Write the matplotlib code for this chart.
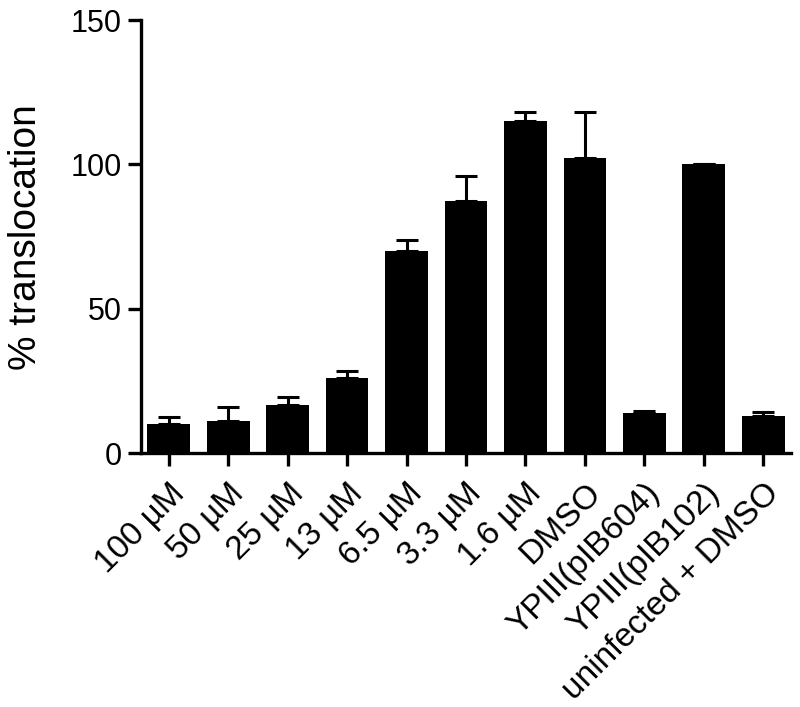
import matplotlib
matplotlib.use('Agg')
import matplotlib.pyplot as plt
import numpy as np

# data
categories = ['100 µM', '50 µM', '25 µM', '13 µM', '6.5 µM', '3.3 µM', '1.6 µM',
              'DMSO', 'YPIII(pIB604)', 'YPIII(pIB102)', 'uninfected + DMSO']
means = [10.1, 11.3, 16.7, 26.2, 70.1, 87.2, 115.1, 102.4, 13.9, 100.0, 12.9]
errors = [2.6, 4.8, 2.9, 2.3, 3.6, 8.9, 3.0, 15.7, 0.8, 0.0, 1.5]
yticks = [0, 50, 100, 150]

plt.rcParams['font.family'] = ['Liberation Sans', 'DejaVu Sans']

fig = plt.figure(figsize=(8, 7.07), dpi=100)
ax = fig.add_axes([0.176, 0.3588, 0.813, 0.6129])

x = np.arange(len(categories))
lower = np.zeros(len(errors))
ax.bar(x, means, width=0.72, color='black', zorder=2,
       yerr=[lower, errors],
       error_kw=dict(ecolor='black', elinewidth=2.2, capsize=8, capthick=2.2, zorder=1))

ax.set_xlim(-0.47, len(categories) - 0.53)
ax.set_ylim(0, 150)
ax.set_yticks(yticks)
ax.set_xticks(x)
ax.set_xticklabels(categories, rotation=45, ha='right', rotation_mode='anchor', fontsize=24)
ax.tick_params(axis='both', width=2.4, length=9.5, labelsize=22, pad=4)
ax.tick_params(axis='x', labelsize=24, pad=8)

for side in ['top', 'right']:
    ax.spines[side].set_visible(False)
for side in ['left', 'bottom']:
    ax.spines[side].set_linewidth(2.4)

ax.set_ylabel('% translocation', fontsize=28, labelpad=19)

fig.savefig('out.png', dpi=100)
